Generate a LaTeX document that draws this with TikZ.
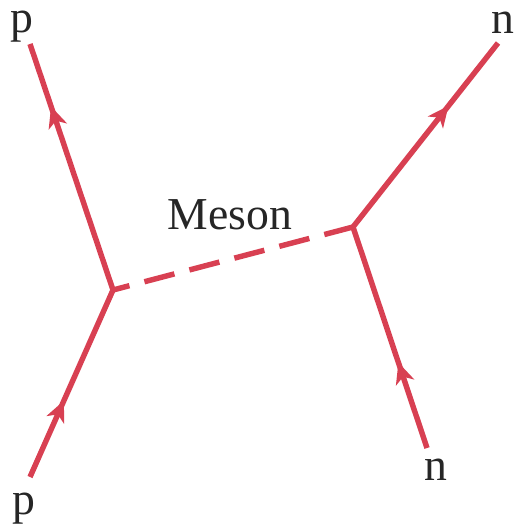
\documentclass[tikz,border=0pt]{standalone}
\usepackage{fontspec}
\setmainfont{Liberation Serif}
\usetikzlibrary{arrows.meta,decorations.markings}
\definecolor{fline}{RGB}{216,64,82}
\definecolor{ftext}{RGB}{38,38,38}

\begin{document}
\begin{tikzpicture}[x=0.02cm, y=-0.02cm,
  prt/.style={draw=fline, line width=3.1pt, line join=miter},
  mes/.style={draw=fline, line width=3.1pt, dash pattern=on 0.62cm off 0.31cm, dash phase=0.28cm},
  lbl/.style={text=ftext, font=\fontsize{26}{30}\selectfont, anchor=base, inner sep=0pt},
  arr/.style n args={2}{postaction={decorate}, decoration={markings,
    mark=at position #1 with {\arrow[fline]{Stealth[length=0.42cm, width=0.38cm, inset=0.12cm]}},
    mark=at position #2 with {\arrow[fline]{Stealth[length=0.42cm, width=0.38cm, inset=0.12cm]}}}}]
\useasboundingbox (0,0) rectangle (515,526);

% vertices and free ends
\coordinate (vl) at (113,290);
\coordinate (vr) at (353,227);
\coordinate (pin) at (30,477);
\coordinate (pout) at (30,44);
\coordinate (nin) at (427,448);
\coordinate (nout) at (498,43);

\node[lbl] (pintxt) at (24,514) {p};
\node[lbl] (pouttxt) at (22,33) {p};
\node[lbl] (nintxt) at (436,480) {n};
\node[lbl] (nouttxt) at (503,34) {n};
\node[lbl, font=\fontsize{26}{30}\selectfont] (meson) at (230,230) {Meson};

\draw[prt, arr={0.18}{0.858}] (pin) -- (vl) -- (pout);
\draw[prt, arr={0.193}{0.829}] (nin) -- (vr) -- (nout);
\draw[mes] (vl) -- (vr);
\end{tikzpicture}
\end{document}
